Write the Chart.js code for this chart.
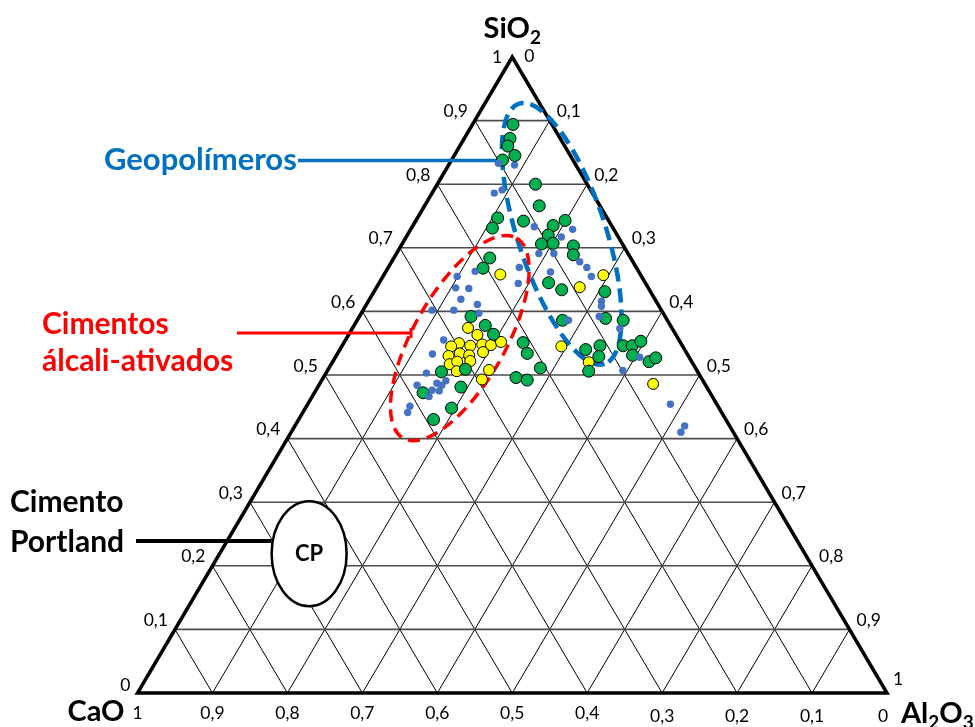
<!DOCTYPE html>
<html>
<head>
<meta charset="utf-8">
<script src="https://cdn.jsdelivr.net/npm/chart.js@4.4.1/dist/chart.umd.min.js"></script>
<style>
  html, body { margin: 0; padding: 0; background: #ffffff; }
  canvas { display: block; }
</style>
</head>
<body>
<canvas id="ternary" width="975" height="727"></canvas>
<script>
// Ternary diagram SiO2 - CaO - Al2O3 (mass fractions). CaO = 1 - SiO2 - Al2O3.

// Tick values on each side of the triangle and their labels
const tickValues = [0, 0.1, 0.2, 0.3, 0.4, 0.5, 0.6, 0.7, 0.8, 0.9, 1];
const tickLabels = ['0', '0,1', '0,2', '0,3', '0,4', '0,5', '0,6', '0,7', '0,8', '0,9', '1'];
const gridSteps = [0.1, 0.2, 0.3, 0.4, 0.5, 0.6, 0.7, 0.8, 0.9];

// Small blue dots
const blueSiO2 = [0.833, 0.830, 0.786, 0.791, 0.733, 0.729, 0.717, 0.691, 0.691, 0.678,
  0.669, 0.655, 0.662, 0.669, 0.644, 0.663, 0.655, 0.637, 0.636, 0.619,
  0.611, 0.602, 0.602, 0.597, 0.555, 0.533, 0.503, 0.491, 0.487, 0.484,
  0.484, 0.476, 0.475, 0.466, 0.451, 0.441, 0.616, 0.608, 0.592, 0.573,
  0.586, 0.528, 0.507, 0.454, 0.420, 0.410];
const blueAl2O3 = [0.065, 0.088, 0.083, 0.091, 0.163, 0.216, 0.207, 0.190, 0.210, 0.251,
  0.265, 0.278, 0.220, 0.175, 0.186, 0.119, 0.099, 0.106, 0.124, 0.122,
  0.148, 0.092, 0.121, 0.157, 0.131, 0.127, 0.134, 0.166, 0.156, 0.164,
  0.131, 0.155, 0.165, 0.156, 0.138, 0.140, 0.311, 0.315, 0.320, 0.357,
  0.282, 0.406, 0.394, 0.484, 0.520, 0.520];

// Green circles
const greenSiO2 = [0.894, 0.872, 0.860, 0.845, 0.838, 0.800, 0.766, 0.747, 0.731, 0.742,
  0.735, 0.743, 0.720, 0.706, 0.707, 0.703, 0.689, 0.684, 0.668, 0.645,
  0.634, 0.631, 0.592, 0.578, 0.564, 0.586, 0.589, 0.586, 0.551, 0.534,
  0.511, 0.496, 0.492, 0.540, 0.546, 0.529, 0.546, 0.546, 0.553, 0.531,
  0.521, 0.527, 0.506, 0.505, 0.509, 0.481, 0.472, 0.448, 0.430];
const greenAl2O3 = [0.054, 0.061, 0.064, 0.081, 0.068, 0.131, 0.153, 0.107, 0.108, 0.144,
  0.187, 0.199, 0.188, 0.186, 0.201, 0.230, 0.237, 0.128, 0.127, 0.226,
  0.249, 0.308, 0.149, 0.175, 0.193, 0.274, 0.330, 0.355, 0.239, 0.253,
  0.282, 0.257, 0.274, 0.328, 0.344, 0.351, 0.375, 0.387, 0.395, 0.395,
  0.422, 0.428, 0.349, 0.153, 0.183, 0.191, 0.145, 0.195, 0.180];

// Yellow circles
const yellowSiO2 = [0.658, 0.657, 0.638, 0.574, 0.563, 0.550, 0.545, 0.546, 0.548, 0.547,
  0.552, 0.530, 0.534, 0.531, 0.536, 0.517, 0.521, 0.522, 0.506, 0.508,
  0.493, 0.545, 0.520, 0.486];
const yellowAl2O3 = [0.155, 0.293, 0.271, 0.154, 0.172, 0.154, 0.146, 0.171, 0.186, 0.198,
  0.209, 0.150, 0.163, 0.177, 0.193, 0.158, 0.166, 0.183, 0.173, 0.215,
  0.213, 0.293, 0.342, 0.445];

// Composition -> cartesian position inside the triangle (x along the base, y = SiO2 height)
function tern(sio2, al2o3) {
  return { x: al2o3 + sio2 / 2, y: sio2 };
}
function toPoints(sio2, al2o3) {
  return sio2.map((s, i) => tern(s, al2o3[i]));
}

const FONT = "Lato, 'Open Sans', 'Liberation Sans', sans-serif";

function px(chart, p) {
  return { x: chart.scales.x.getPixelForValue(p.x), y: chart.scales.y.getPixelForValue(p.y) };
}

function line(ctx, a, b) {
  ctx.beginPath();
  ctx.moveTo(a.x, a.y);
  ctx.lineTo(b.x, b.y);
  ctx.stroke();
}

// Text with an optional subscript part, e.g. [['Al',0],['2',1],['O',0],['3',1]]
function chemText(ctx, parts, x, y, size, align, color) {
  ctx.save();
  ctx.fillStyle = color;
  ctx.textBaseline = 'alphabetic';
  const subSize = Math.round(size * 0.66);
  let total = 0;
  parts.forEach(([t, sub]) => {
    ctx.font = `bold ${sub ? subSize : size}px ${FONT}`;
    total += ctx.measureText(t).width;
  });
  let cx = align === 'right' ? x - total : (align === 'center' ? x - total / 2 : x);
  parts.forEach(([t, sub]) => {
    ctx.font = `bold ${sub ? subSize : size}px ${FONT}`;
    ctx.textAlign = 'left';
    ctx.fillText(t, cx, sub ? y + size * 0.2 : y);
    cx += ctx.measureText(t).width;
  });
  ctx.restore();
}

// Grid, frame, region outlines and leader lines under the points
const ternaryFrame = {
  id: 'ternaryFrame',
  beforeDatasetsDraw(chart) {
    const ctx = chart.ctx;
    ctx.save();
    // diagonal grid lines (constant Al2O3 and constant CaO)
    ctx.strokeStyle = '#000000';
    ctx.lineWidth = 1;
    gridSteps.forEach(v => {
      line(ctx, px(chart, tern(0, v)), px(chart, tern(1 - v, v)));
      line(ctx, px(chart, tern(0, 1 - v)), px(chart, tern(1 - v, 0)));
    });
    // horizontal grid lines (constant SiO2)
    ctx.strokeStyle = '#4d4d4d';
    ctx.lineWidth = 1.6;
    gridSteps.forEach(v => {
      line(ctx, px(chart, tern(v, 0)), px(chart, tern(v, 1 - v)));
    });
    // triangle frame
    const top = px(chart, tern(1, 0));
    const left = px(chart, tern(0, 0));
    const right = px(chart, tern(0, 1));
    ctx.strokeStyle = '#000000';
    ctx.lineWidth = 3.5;
    ctx.lineJoin = 'miter';
    ctx.beginPath();
    ctx.moveTo(top.x, top.y);
    ctx.lineTo(left.x, left.y);
    ctx.lineTo(right.x, right.y);
    ctx.closePath();
    ctx.stroke();

    // Cimento Portland region
    const cp = px(chart, { x: 0.229, y: 0.219 });
    ctx.beginPath();
    ctx.ellipse(cp.x, cp.y, 37.5, 52.5, 0, 0, Math.PI * 2);
    ctx.fillStyle = '#ffffff';
    ctx.fill();
    ctx.lineWidth = 2.5;
    ctx.stroke();
    ctx.fillStyle = '#000000';
    ctx.font = `bold 22px ${FONT}`;
    ctx.textAlign = 'center';
    ctx.textBaseline = 'middle';
    ctx.fillText('CP', cp.x, cp.y);

    // leader lines
    ctx.lineCap = 'butt';
    ctx.strokeStyle = '#000000';
    ctx.lineWidth = 4;
    line(ctx, { x: 136, y: 541 }, { x: cp.x - 37.5, y: 541 });
    ctx.strokeStyle = '#0070c0';
    ctx.lineWidth = 3.5;
    line(ctx, { x: 298, y: 160.5 }, { x: 500, y: 160.5 });
    ctx.strokeStyle = '#ff0000';
    ctx.lineWidth = 3;
    line(ctx, { x: 237, y: 333 }, { x: 411, y: 333 });
    line(ctx, { x: 411, y: 328 }, { x: 411, y: 338 });

    // Geopolímeros region
    const geo = px(chart, { x: 0.566, y: 0.722 });
    ctx.setLineDash([14, 7]);
    ctx.strokeStyle = '#0070c0';
    ctx.lineWidth = 4.5;
    ctx.beginPath();
    ctx.ellipse(geo.x, geo.y, 137, 44, 1.253, 0, Math.PI * 2);
    ctx.stroke();

    // álcali-ativados region
    const aa = px(chart, { x: 0.430, y: 0.558 });
    ctx.setLineDash([12, 7]);
    ctx.strokeStyle = '#ff0000';
    ctx.lineWidth = 3.5;
    ctx.beginPath();
    ctx.ellipse(aa.x, aa.y, 115, 46, -1.056, 0, Math.PI * 2);
    ctx.stroke();
    ctx.restore();
  },
  afterDraw(chart) {
    const ctx = chart.ctx;
    ctx.save();
    ctx.fillStyle = '#000000';
    ctx.font = `17.5px ${FONT}`;
    ctx.textBaseline = 'middle';
    // SiO2 scale on the left side
    tickValues.forEach((v, i) => {
      const p = px(chart, tern(v, 0));
      ctx.textAlign = 'right';
      let dx = -7, dy = -9;
      if (v === 1) { dx = -10; dy = 0; }
      if (v === 0) { dx = -7; dy = -8; }
      ctx.fillText(tickLabels[i], p.x + dx, p.y + dy);
    });
    // Al2O3 scale on the right side
    tickValues.forEach((v, i) => {
      const p = px(chart, tern(1 - v, v));
      ctx.textAlign = 'left';
      let dx = 7, dy = -9;
      if (v === 0) { dx = 12; dy = -1; }
      if (v === 1) { dx = 6; dy = -14; }
      ctx.fillText(tickLabels[i], p.x + dx, p.y + dy);
    });
    // CaO scale along the base
    tickValues.forEach((v, i) => {
      const p = px(chart, tern(0, 1 - v));
      ctx.textAlign = 'center';
      let dx = 0;
      if (v === 0) dx = -4;
      const dy = v <= 0.3 ? 23 : 20;
      ctx.fillText(tickLabels[i], p.x + dx, p.y + dy);
    });

    // vertex names
    const top = px(chart, tern(1, 0));
    const left = px(chart, tern(0, 0));
    const right = px(chart, tern(0, 1));
    chemText(ctx, [['SiO', 0], ['2', 1]], top.x, top.y - 19, 29, 'center', '#000000');
    chemText(ctx, [['CaO', 0]], left.x - 13, left.y + 28, 29, 'right', '#000000');
    chemText(ctx, [['Al', 0], ['2', 1], ['O', 0], ['3', 1]], right.x + 14, right.y + 30, 29, 'left', '#000000');

    // group names
    ctx.textAlign = 'left';
    ctx.textBaseline = 'middle';
    ctx.font = `bold 31px ${FONT}`;
    ctx.fillStyle = '#0070c0';
    ctx.fillText('Geopolímeros', 104, 160);
    ctx.font = `bold 30px ${FONT}`;
    ctx.fillStyle = '#ff0000';
    ctx.fillText('Cimentos', 42, 324);
    ctx.fillText('álcali-ativados', 42, 361);
    ctx.fillStyle = '#000000';
    ctx.fillText('Cimento', 10, 502);
    ctx.fillText('Portland', 10, 542);
    ctx.restore();
  }
};

new Chart(document.getElementById('ternary'), {
  type: 'scatter',
  data: {
    datasets: [
      {
        data: toPoints(blueSiO2, blueAl2O3),
        pointRadius: 3.7,
        pointBackgroundColor: '#4472c4',
        pointBorderWidth: 0
      },
      {
        data: toPoints(greenSiO2, greenAl2O3),
        pointRadius: 6,
        pointBackgroundColor: '#00b050',
        pointBorderColor: '#000000',
        pointBorderWidth: 1
      },
      {
        data: toPoints(yellowSiO2, yellowAl2O3),
        pointRadius: 5.5,
        pointBackgroundColor: '#ffff00',
        pointBorderColor: '#000000',
        pointBorderWidth: 1
      }
    ]
  },
  options: {
    responsive: false,
    animation: false,
    layout: { padding: { left: 137.5, right: 88, top: 57, bottom: 34 } },
    scales: {
      x: { type: 'linear', min: 0, max: 1, display: false },
      y: { type: 'linear', min: 0, max: 1, display: false }
    },
    plugins: {
      legend: { display: false },
      tooltip: { enabled: false }
    },
    events: []
  },
  plugins: [ternaryFrame]
});
</script>
</body>
</html>
